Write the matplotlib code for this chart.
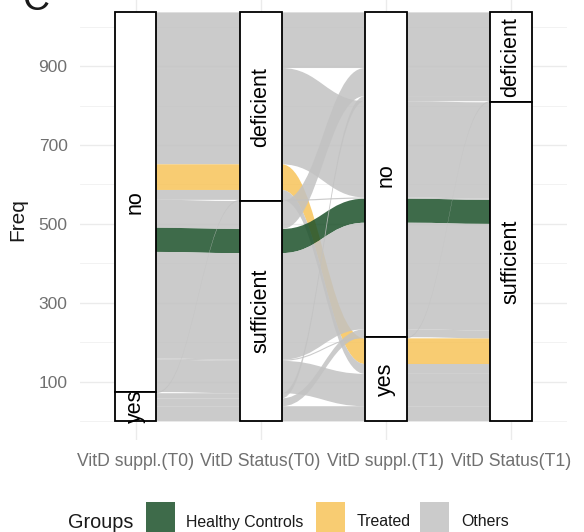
import numpy as np
import matplotlib
matplotlib.use("Agg")
import matplotlib.pyplot as plt
from matplotlib.patches import Rectangle, PathPatch
from matplotlib.path import Path

plt.rcParams['font.family'] = ['Liberation Sans', 'DejaVu Sans']

# axes of the alluvial plot and their strata (first level drawn on top)
axis_names = ["VitD suppl.(T0)", "VitD Status(T0)", "VitD suppl.(T1)", "VitD Status(T1)"]
axis_levels = [["no", "yes"], ["deficient", "sufficient"], ["no", "yes"], ["deficient", "sufficient"]]

# one row per alluvium (path through the four axes)
supp_t0   = ["no", "no", "no", "no", "no", "no", "no", "no", "no", "yes", "yes", "yes", "yes"]
status_t0 = ["deficient", "deficient", "deficient", "deficient", "sufficient", "sufficient", "sufficient",
             "sufficient", "sufficient", "deficient", "sufficient", "sufficient", "sufficient"]
supp_t1   = ["no", "no", "yes", "yes", "no", "no", "no", "yes", "yes", "no", "no", "no", "yes"]
status_t1 = ["deficient", "sufficient", "sufficient", "sufficient", "deficient", "sufficient", "sufficient",
             "deficient", "sufficient", "sufficient", "deficient", "sufficient", "sufficient"]
freq      = [141, 244, 65, 25, 71, 61, 270, 3, 82, 3, 13, 20, 38]
group     = ["Others", "Others", "Treated", "Others", "Others", "Healthy Controls", "Others",
             "Others", "Others", "Others", "Others", "Others", "Others"]

group_names = ["Healthy Controls", "Treated", "Others"]
group_colors = {"Healthy Controls": "#1c512a", "Treated": "#f7c459", "Others": "#c2c2c2"}
flow_alpha = 0.85

paths = list(zip(supp_t0, status_t0, supp_t1, status_t1))
n_axes = len(axis_names)
n_rows = len(freq)
total = sum(freq)

# zigzag lode ordering (as in ggalluvial)
zigzag = [[0, 1, 2, 3], [1, 0, 2, 3], [2, 3, 1, 0], [3, 2, 1, 0]]

tops = np.zeros((n_axes, n_rows))
bots = np.zeros((n_axes, n_rows))
strata_boxes = []
for a in range(n_axes):
    lev = axis_levels[a]
    key = lambda r: tuple(axis_levels[b].index(paths[r][b]) for b in zigzag[a]) + (r,)
    order = sorted(range(n_rows), key=key)
    y = total
    for r in order:
        tops[a, r] = y
        bots[a, r] = y - freq[r]
        y -= freq[r]
    y = total
    for s in lev:
        h = sum(freq[r] for r in range(n_rows) if paths[r][a] == s)
        strata_boxes.append((a, s, y - h, h))
        y -= h

W, H = 584, 532
fig = plt.figure(figsize=(W / 100, H / 100), dpi=100)
ax = fig.add_axes([80 / W, (H - 440) / H, 487 / W, 440 / H])
ax.set_xlim(0.556, 4.448)
ax.set_ylim(-47.6, 1067.4)

# grid like theme_minimal
for yv in range(0, 1001, 200):
    ax.axhline(yv, color="#f0f0f0", lw=0.6, zorder=0)
for yv in range(100, 1000, 200):
    ax.axhline(yv, color="#ebebeb", lw=1.0, zorder=0)
for xv in range(1, 5):
    ax.axvline(xv, color="#ebebeb", lw=1.0, zorder=0)

bw = 1 / 3
k = 0.45


def ribbon(x0, x1, t0, b0, t1, b1):
    dx = x1 - x0
    verts = [(x0 - bw, t0), (x0, t0), (x0 + k * dx, t0), (x1 - k * dx, t1), (x1, t1), (x1 + bw, t1),
             (x1 + bw, b1), (x1, b1), (x1 - k * dx, b1), (x0 + k * dx, b0), (x0, b0), (x0 - bw, b0),
             (x0 - bw, t0)]
    codes = [Path.MOVETO, Path.LINETO, Path.CURVE4, Path.CURVE4, Path.CURVE4, Path.LINETO,
             Path.LINETO, Path.LINETO, Path.CURVE4, Path.CURVE4, Path.CURVE4, Path.LINETO,
             Path.CLOSEPOLY]
    return Path(verts, codes)


for r in range(n_rows):
    for a in range(n_axes - 1):
        x0 = a + 1 + bw / 2
        x1 = a + 2 - bw / 2
        p = ribbon(x0, x1, tops[a, r], bots[a, r], tops[a + 1, r], bots[a + 1, r])
        ax.add_patch(PathPatch(p, facecolor=group_colors[group[r]], edgecolor="none",
                               alpha=flow_alpha, zorder=2))

for a, s, y0, h in strata_boxes:
    ax.add_patch(Rectangle((a + 1 - bw / 2, y0), bw, h, facecolor="white", edgecolor="black",
                           lw=1.3, zorder=3))
    ax.text(a + 1, y0 + h / 2, s, rotation=90, ha="center", va="center", fontsize=15.5,
            color="black", zorder=4)

ax.set_xticks(range(1, 5))
ax.set_xticklabels(axis_names, fontsize=12.7, color="#707070")
ax.set_yticks(range(100, 1000, 200))
ax.set_yticklabels([str(v) for v in range(100, 1000, 200)], fontsize=12.5, color="#707070")
ax.tick_params(length=0)
ax.tick_params(axis="x", pad=9)
ax.tick_params(axis="y", pad=9)
ax.set_ylabel("Freq", fontsize=15, color="#1a1a1a")
ax.yaxis.set_label_coords(-0.109, 0.5)
for sp in ax.spines.values():
    sp.set_visible(False)

# panel letter (cut off at the top in the source)
fig.text(22 / W, 1 - 10 / H, "C", fontsize=27, va="baseline", ha="left", color="#1a1a1a")

# legend at bottom
fig.text(68 / W, 1 - 522 / H, "Groups", fontsize=14.3, va="center", ha="left", color="#1a1a1a")
key_x = [146, 316, 420]
lab_x = [186, 357, 461]
for g, kx, lx in zip(group_names, key_x, lab_x):
    fig.add_artist(Rectangle((kx / W, 1 - 534 / H), 29 / W, 32 / H, transform=fig.transFigure,
                             facecolor=group_colors[g], alpha=flow_alpha, edgecolor="none"))
    fig.text(lx / W, 1 - 522 / H, g, fontsize=11.4, va="center", ha="left", color="#1a1a1a")

fig.savefig("out.png", dpi=100)
